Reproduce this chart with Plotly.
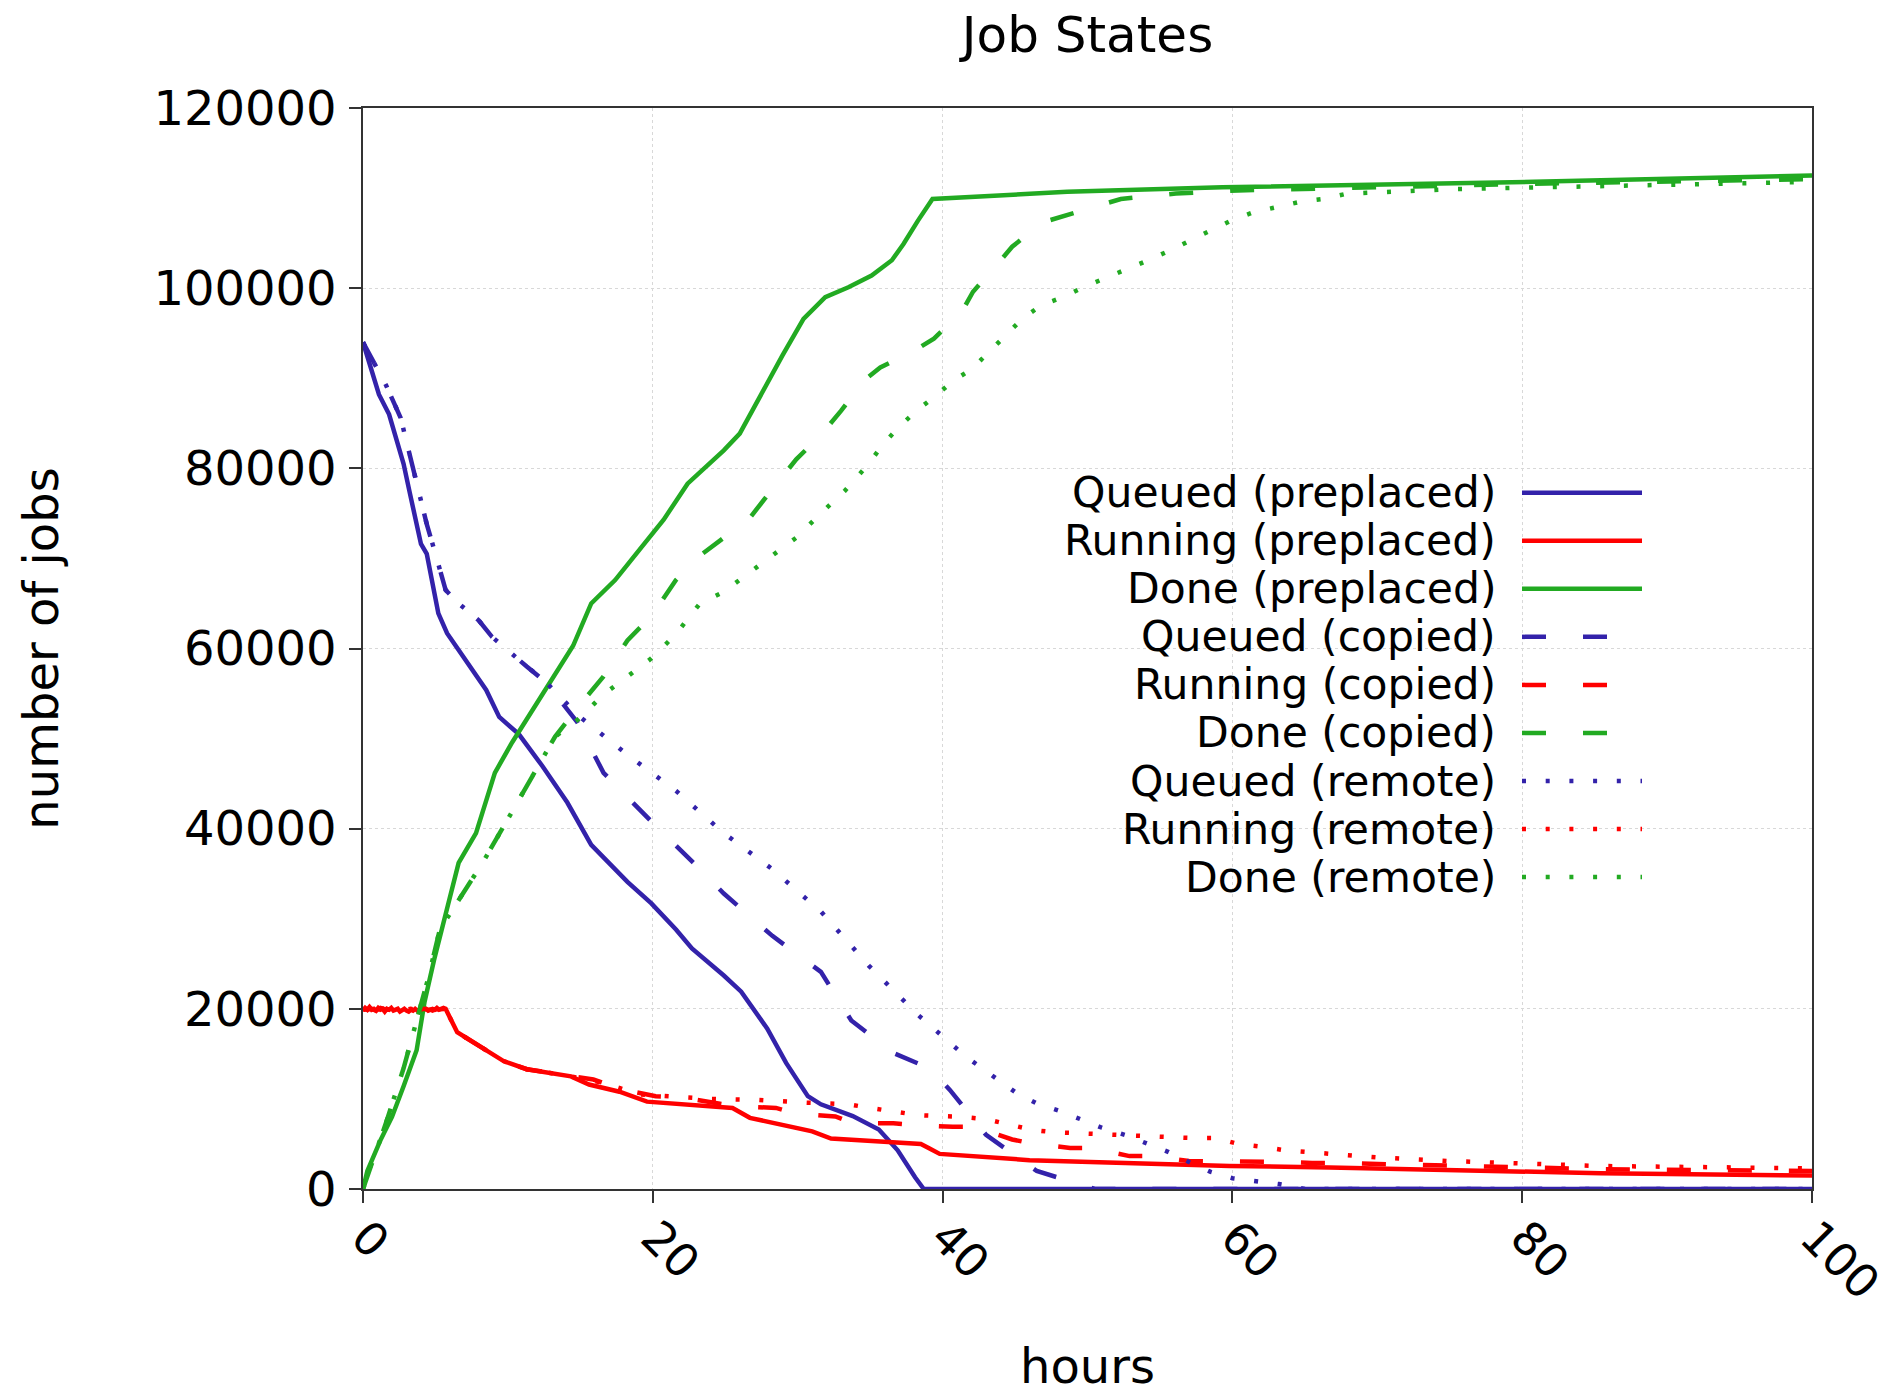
import plotly.graph_objects as go

BLUE = "#3322aa"
RED = "#ff0000"
GREEN = "#22aa22"

# ---------------- data ----------------
# Queued (preplaced)
qp_h = [0, 0.5, 1.1, 1.8, 2.8, 3.2, 4.0, 4.4, 5.2, 5.8, 6.85, 8.5, 9.4, 10.75, 12.4, 14.1, 15.75,
        18.25, 19.9, 21.6, 22.7, 24.9, 26.1, 27.9, 29.2, 30.7, 31.6, 33.8, 35.6, 36.9, 38.1, 38.7,
        45, 60, 80, 100]
qp_v = [94000, 91500, 88200, 86000, 80500, 77500, 71600, 70500, 63900, 61700, 59300, 55400, 52400,
        50500, 46900, 42900, 38200, 34100, 31700, 28800, 26700, 23700, 21900, 17800, 14000, 10300,
        9400, 8100, 6600, 4300, 1300, 0, 0, 0, 0, 0]

# Running (preplaced)
rp_h = [0, 0.15, 0.3, 0.45, 0.6, 0.75, 0.9, 1.05, 1.2, 1.35, 1.5, 1.65, 1.8, 1.95, 2.1, 2.25,
        2.4, 2.55, 2.7, 2.85, 3.0, 3.15, 3.3, 3.45, 3.6, 3.75, 3.9, 4.05, 4.2, 4.35, 4.5, 4.65,
        4.8, 4.95, 5.1, 5.25, 5.4, 5.55, 5.7, 6.5, 7.6, 9.7, 11.3, 14.35, 15.6, 17.7, 19.6,
        21.8, 25.5, 26.7, 29.2, 31.0, 32.3, 38.5, 39.1, 39.8, 46.0, 52.9, 59.8, 66.7, 75.0,
        85.4, 100]
rp_v = [19800, 20100, 19900, 20200, 19900, 20000, 19800, 20100, 19900, 20000, 19700, 20000, 19900,
        20100, 19800, 19900, 20000, 19700, 19900, 20000, 19800, 19700, 19900, 19800, 20000, 19800,
        19900, 19700, 19900, 20000, 19800, 19900, 20000, 19900, 20100, 19900, 20000, 20100, 20000,
        17400, 16300, 14200, 13300, 12500, 11600, 10800, 9700, 9400, 9000, 7900, 7100, 6400, 5600,
        5000, 4500, 3900, 3200, 2900, 2550, 2400, 2100, 1750, 1500]

# Done (preplaced)
dp_h = [0, 0.3, 1.2, 2.0, 2.8, 3.7, 4.25, 4.9, 5.75, 6.6, 7.8, 9.1, 10.3, 11.6, 13.25, 14.5,
        15.75, 17.4, 19.1, 20.75, 22.4, 24.9, 26.0, 27.6, 28.95, 30.4, 31.9, 33.5, 35.1, 36.5,
        37.3, 38.3, 39.3, 48.6, 59.3, 80.8, 100]
dp_v = [0, 2000, 5400, 8000, 11400, 15400, 20800, 25400, 30800, 36200, 39500, 46200, 49600, 52900,
        56900, 60300, 65000, 67600, 71000, 74300, 78300, 82000, 83850, 88650, 92540, 96600, 99000,
        100100, 101400, 103100, 104900, 107500, 109900, 110700, 111200, 111800, 112500]

# Queued (copied)
qc_h = [0, 0.2, 1.6, 2.6, 3.2, 3.6, 3.9, 4.4, 5.0, 5.7, 6.6, 8.0, 8.9, 10.1, 11.3, 12.6, 13.6,
        14.8, 16.6, 19.9, 23.25, 24.9, 28.25, 31.6, 33.7, 36.6, 39.1, 40.5, 43.0, 46.5, 50.5,
        60, 80, 100]
qc_v = [94000, 93400, 89200, 85600, 81600, 79000, 76800, 73800, 70500, 66500, 65000, 63100, 61300,
        59600, 58000, 56300, 54300, 51800, 46200, 40800, 35500, 32800, 28100, 24100, 18700, 15100,
        13400, 11000, 6000, 2000, 0, 0, 0, 0]

# Running (copied)
rc_h = [0, 0.3, 0.6, 0.9, 1.2, 1.5, 1.8, 2.1, 2.4, 2.7, 3.0, 3.3, 3.6, 3.9, 4.2, 4.5, 4.8, 5.1,
        5.4, 5.7, 6.5, 7.6, 9.7, 11.3, 14.35, 15.9, 17.9, 20.2, 22.1, 24.4, 25.6, 28.5, 29.8,
        32.6, 33.8, 36.6, 38.1, 40.7, 42.2, 44.8, 46.0, 48.8, 50.3, 52.9, 54.4, 57.0, 58.7,
        61.2, 62.8, 65.5, 66.7, 75.0, 85.4, 100]
rc_v = [20000, 19900, 20000, 19800, 20100, 19900, 19800, 20000, 19900, 20000, 20100, 19800, 20000,
        19900, 20000, 19900, 19900, 20000, 19900, 20000, 17400, 16300, 14200, 13300, 12500, 12150,
        11050, 10300, 10150, 9500, 9200, 9000, 8400, 8050, 7300, 7300, 7100, 6900, 6900, 5500,
        5100, 4550, 4550, 3650, 3650, 3100, 3100, 3000, 3000, 2900, 2900, 2600, 2200, 2000]

# Done (copied)
dc_h = [0, 0.75, 1.6, 2.8, 3.7, 4.5, 5.3, 6.6, 8.25, 9.9, 11.6, 13.25, 14.9, 16.6, 18.25, 19.9,
        21.6, 23.25, 24.9, 26.6, 28.25, 29.9, 31.6, 33.0, 34.6, 35.7, 38.3, 39.4, 41.3, 42.1,
        43.8, 44.8, 46.9, 50.7, 52.3, 56.1, 60.4, 70.0, 80.8, 100]
dc_v = [0, 3300, 7400, 13400, 18700, 23400, 28800, 32100, 36200, 40800, 45500, 50200, 53600, 56900,
        60900, 63600, 67600, 70300, 72300, 74300, 77700, 81000, 83700, 86400, 89800, 91200, 93300,
        94400, 97300, 99600, 102700, 104600, 107300, 109200, 109900, 110500, 110850, 111200,
        111600, 112100]

# Queued (remote)
qr_h = [0, 0.2, 1.6, 2.6, 3.2, 3.6, 3.9, 4.4, 5.0, 5.7, 6.6, 8.0, 8.9, 10.1, 11.3, 12.6, 13.6,
        14.9, 18.25, 21.6, 24.9, 28.25, 31.6, 34.9, 38.25, 41.6, 45.1, 46.5, 48.1, 49.6, 51.0,
        52.6, 54.1, 55.6, 57.0, 58.5, 60.0, 61.6, 63.2, 65, 80, 100]
qr_v = [94000, 93400, 89200, 85600, 81600, 79000, 76800, 73800, 70500, 66500, 65000, 63100, 61300,
        59600, 58000, 56300, 54700, 52500, 48200, 44200, 39500, 35500, 30800, 24800, 19400, 14700,
        10650, 9500, 8650, 7750, 6800, 6000, 5100, 4100, 3000, 1900, 1200, 900, 550, 0, 0, 0]

# Running (remote)
rr_h = [0, 0.3, 0.6, 0.9, 1.2, 1.5, 1.8, 2.1, 2.4, 2.7, 3.0, 3.3, 3.6, 3.9, 4.2, 4.5, 4.8, 5.1,
        5.4, 5.7, 6.5, 7.6, 9.7, 11.3, 14.35, 16.5, 19.1, 23.9, 27.2, 30.4, 33.5, 35.0, 36.7,
        38.3, 39.8, 41.4, 43.0, 44.6, 46.2, 47.7, 49.2, 50.9, 52.4, 54.1, 55.7, 57.3, 58.9,
        60.4, 62.0, 63.6, 65.2, 70.0, 75.0, 85.4, 100]
rr_v = [19900, 20000, 20100, 19900, 19900, 20000, 19900, 19900, 20100, 19800, 19900, 20000, 19900,
        20000, 19900, 20000, 19800, 20000, 20000, 20000, 17400, 16300, 14200, 13300, 12500, 11800,
        10500, 10000, 9900, 9600, 9400, 9000, 8600, 8200, 8100, 8000, 7750, 7200, 6550, 6300,
        6200, 6100, 6000, 5800, 5750, 5650, 5650, 5000, 4700, 4300, 4100, 3500, 3100, 2550, 2300]

# Done (remote)
dr_h = [0, 0.75, 1.6, 2.8, 3.7, 4.5, 5.3, 6.6, 8.25, 9.9, 11.6, 13.25, 14.9, 16.6, 18.25, 19.9,
        21.6, 23.25, 24.9, 26.6, 28.25, 29.9, 31.6, 33.25, 34.9, 35.9, 37.0, 38.2, 39.4, 40.8,
        42.0, 43.2, 44.3, 45.5, 46.8, 48.3, 49.7, 51.2, 52.7, 54.2, 55.7, 57.1, 58.5, 59.9,
        61.4, 63.0, 64.7, 66.3, 67.9, 75.4, 86.1, 100]
dr_v = [0, 3300, 7400, 13400, 18700, 23400, 28800, 32100, 36200, 40800, 45500, 50200, 52200, 54900,
        56900, 58900, 61600, 65000, 66300, 68300, 70300, 72300, 75000, 77500, 80500, 82700, 84600,
        86400, 87900, 89800, 91000, 92900, 94800, 96600, 98100, 99000, 100100, 101100, 102000,
        103100, 104200, 105300, 106400, 107500, 108400, 109000, 109600, 109900, 110500, 111000,
        111400, 111800]

x_ticks = [0, 20, 40, 60, 80, 100]
y_ticks = [0, 20000, 40000, 60000, 80000, 100000, 120000]

SOLID = "solid"
DASH = "24px,37px"
DOT = "4px,19.7px"

series = [
    ("Queued (preplaced)", qp_h, qp_v, BLUE, SOLID),
    ("Running (preplaced)", rp_h, rp_v, RED, SOLID),
    ("Done (preplaced)", dp_h, dp_v, GREEN, SOLID),
    ("Queued (copied)", qc_h, qc_v, BLUE, DASH),
    ("Running (copied)", rc_h, rc_v, RED, DASH),
    ("Done (copied)", dc_h, dc_v, GREEN, DASH),
    ("Queued (remote)", qr_h, qr_v, BLUE, DOT),
    ("Running (remote)", rr_h, rr_v, RED, DOT),
    ("Done (remote)", dr_h, dr_v, GREEN, DOT),
]

FONT = "DejaVu Sans"
W, H = 1893, 1399
L, R, T, B = 363, 81, 108, 210
PW, PH = W - L - R, H - T - B
LW = 4.5

fig = go.Figure()
for name, hx, vy, col, dash in series:
    fig.add_trace(go.Scatter(x=hx, y=vy, mode="lines", name=name, showlegend=False,
                             line=dict(color=col, width=LW, dash=dash)))

# custom legend (text on the left, line sample on the right, like the original)
def px_to_paper_x(px):
    return (px - L) / PW

def py_to_paper_y(py):
    return (T + PH - py) / PH

shapes = []
annotations = []
for i, (name, hx, vy, col, dash) in enumerate(series):
    py = 492.7 + 48.05 * i
    yp = py_to_paper_y(py)
    annotations.append(dict(xref="paper", yref="paper", x=px_to_paper_x(1498), y=yp,
                            xanchor="right", yanchor="middle", text=name, showarrow=False,
                            font=dict(family=FONT, size=42.5, color="black")))
    shapes.append(dict(type="line", xref="paper", yref="paper",
                       x0=px_to_paper_x(1522), x1=px_to_paper_x(1642), y0=yp, y1=yp,
                       line=dict(color=col, width=LW, dash=dash)))

# x-axis title placed like the original (below the rotated tick labels)
annotations.append(dict(xref="paper", yref="paper", x=0.5, y=py_to_paper_y(1366),
                        xanchor="center", yanchor="middle", text="hours", showarrow=False,
                        font=dict(family=FONT, size=48, color="black")))

fig.update_layout(
    width=W, height=H,
    margin=dict(l=L, r=R, t=T, b=B, autoexpand=False),
    paper_bgcolor="white", plot_bgcolor="white",
    font=dict(family=FONT, size=48, color="black"),
    title=dict(text="Job States", x=0.5, xref="paper", y=1 - 34 / H, yref="container",
               xanchor="center", yanchor="middle", font=dict(family=FONT, size=50, color="black")),
    shapes=shapes, annotations=annotations,
    showlegend=False,
)
fig.update_xaxes(
    range=[0, 100], tickvals=x_ticks, ticktext=[str(t) for t in x_ticks], tickangle=45,
    ticks="outside", ticklen=12, tickwidth=1.5, tickcolor="#333333",
    showline=True, linecolor="#333333", linewidth=1.5, mirror=True,
    showgrid=True, gridcolor="#d8d8d8", griddash="dot", gridwidth=1, zeroline=False,
    tickfont=dict(family=FONT, size=46, color="black"),
    ticklabelshift=2, ticklabelstandoff=-11, ticklabeloverflow="allow",
    automargin=False,
)
fig.update_yaxes(
    range=[0, 120000], tickvals=y_ticks, ticktext=[str(t) for t in y_ticks],
    ticks="outside", ticklen=12, tickwidth=1.5, tickcolor="#333333",
    showline=True, linecolor="#333333", linewidth=1.5, mirror=True,
    showgrid=True, gridcolor="#d8d8d8", griddash="dot", gridwidth=1, zeroline=False,
    tickfont=dict(family=FONT, size=48, color="black"), ticklabelstandoff=3,
    title=dict(text="number of jobs", font=dict(family=FONT, size=48, color="black"), standoff=80),
    automargin=False,
)

fig.write_html("out.html")
